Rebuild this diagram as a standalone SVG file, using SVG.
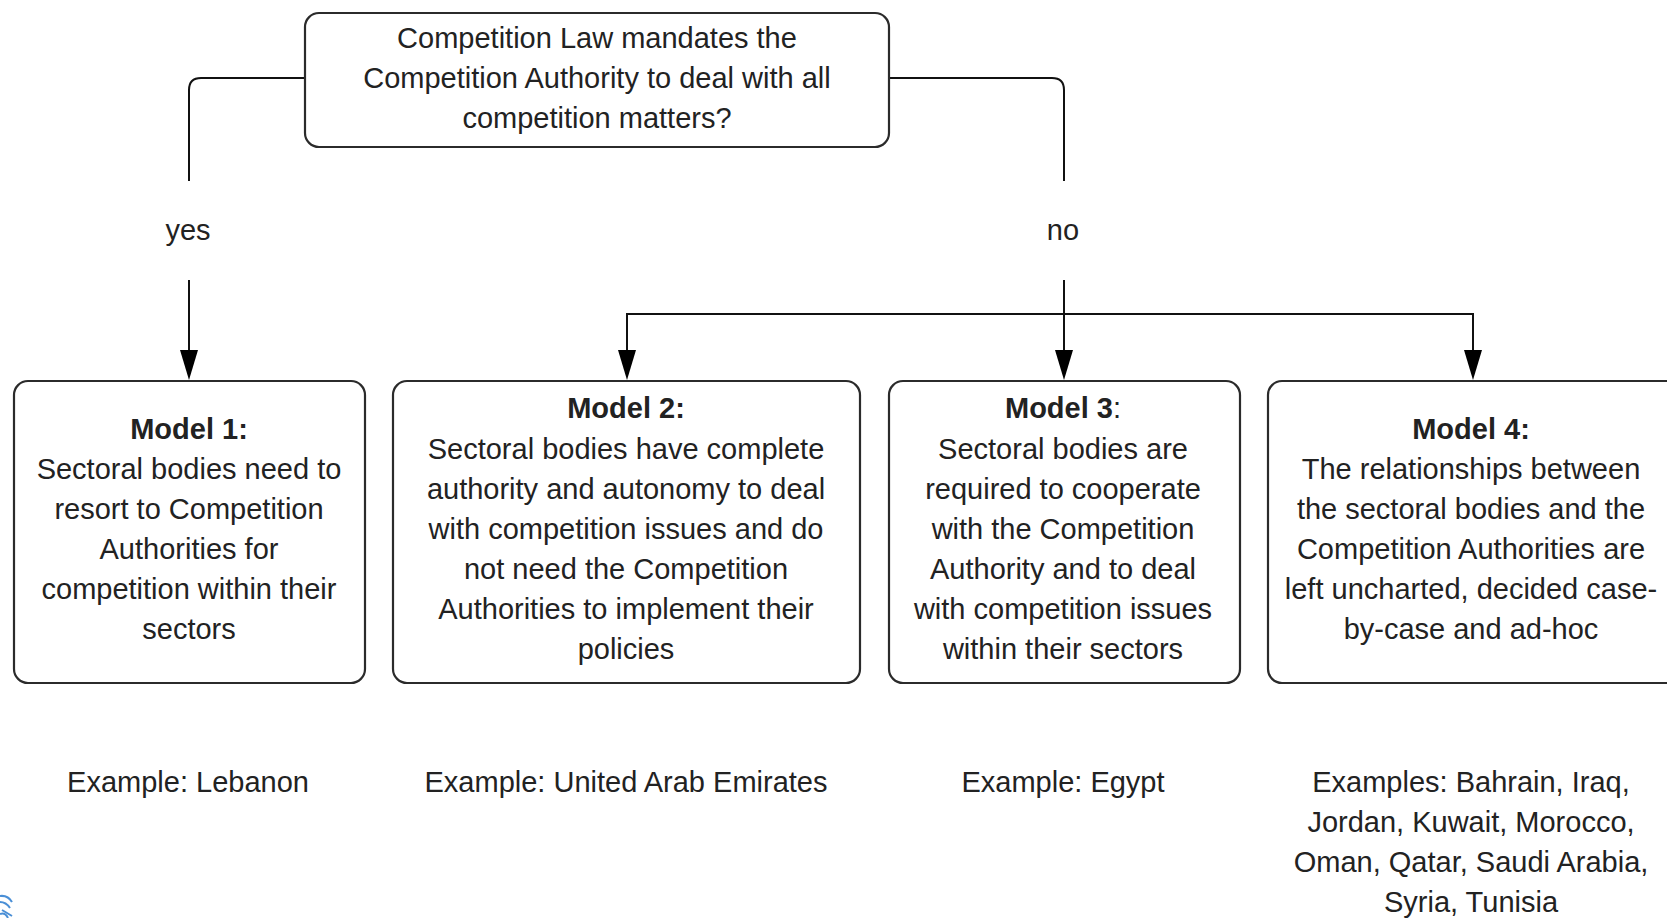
<svg xmlns="http://www.w3.org/2000/svg" width="1667" height="918" viewBox="0 0 1667 918">
<style>
  .box { fill: #ffffff; stroke: #2b2b2b; stroke-width: 2.2; }
  .t { font-family: "Liberation Sans", Arial, sans-serif; font-size: 29px; fill: #222222; text-anchor: middle; }
  .b { font-weight: bold; }
  .n { font-weight: normal; }
  .conn { fill: none; stroke: #111111; stroke-width: 2; }
</style>
<defs>
  <marker id="arrow" viewBox="0 0 18 30" refX="9" refY="30" markerWidth="18" markerHeight="30" markerUnits="userSpaceOnUse" orient="auto-start-reverse">
    <path d="M0,0 L18,0 L9,30 Z" fill="#000000"/>
  </marker>
</defs>
<rect width="1667" height="918" fill="#ffffff"/>

<g id="connectors">
  <path class="conn" d="M305,78 H201 Q189,78 189,90 V181"/>
  <path class="conn" d="M189,280 V350"/>
  <path class="conn" d="M889,78 H1052 Q1064,78 1064,90 V181"/>
  <path class="conn" d="M1064,280 V350"/>
  <path class="conn" d="M627,350 V314 H1473 V350"/>
  <path d="M180,350 L198,350 L189,380 Z" fill="#000"/>
  <path d="M1055,350 L1073,350 L1064,380 Z" fill="#000"/>
  <path d="M618,350 L636,350 L627,380 Z" fill="#000"/>
  <path d="M1464,350 L1482,350 L1473,380 Z" fill="#000"/>
  <text class="t" x="188" y="240">yes</text>
  <text class="t" x="1063" y="240">no</text>
</g>

<g id="question">
  <rect class="box" x="305" y="13" width="584" height="134" rx="14"/>
  <text class="t" x="597" y="48">Competition Law mandates the</text>
  <text class="t" x="597" y="88">Competition Authority to deal with all</text>
  <text class="t" x="597" y="128">competition matters?</text>
</g>

<g id="model1">
  <rect class="box" x="14" y="381" width="351" height="302" rx="14"/>
  <text class="t b" x="189" y="439">Model 1:</text>
  <text class="t" x="189" y="479">Sectoral bodies need to</text>
  <text class="t" x="189" y="519">resort to Competition</text>
  <text class="t" x="189" y="559">Authorities for</text>
  <text class="t" x="189" y="599">competition within their</text>
  <text class="t" x="189" y="639">sectors</text>
</g>

<g id="model2">
  <rect class="box" x="393" y="381" width="467" height="302" rx="14"/>
  <text class="t b" x="626" y="418">Model 2:</text>
  <text class="t" x="626" y="459">Sectoral bodies have complete</text>
  <text class="t" x="626" y="499">authority and autonomy to deal</text>
  <text class="t" x="626" y="539">with competition issues and do</text>
  <text class="t" x="626" y="579">not need the Competition</text>
  <text class="t" x="626" y="619">Authorities to implement their</text>
  <text class="t" x="626" y="659">policies</text>
</g>

<g id="model3">
  <rect class="box" x="889" y="381" width="351" height="302" rx="14"/>
  <text class="t b" x="1063" y="418">Model 3<tspan class="n">:</tspan></text>
  <text class="t" x="1063" y="459">Sectoral bodies are</text>
  <text class="t" x="1063" y="499">required to cooperate</text>
  <text class="t" x="1063" y="539">with the Competition</text>
  <text class="t" x="1063" y="579">Authority and to deal</text>
  <text class="t" x="1063" y="619">with competition issues</text>
  <text class="t" x="1063" y="659">within their sectors</text>
</g>

<g id="model4">
  <rect class="box" x="1268" y="381" width="420" height="302" rx="14"/>
  <text class="t b" x="1471" y="439">Model 4:</text>
  <text class="t" x="1471" y="479">The relationships between</text>
  <text class="t" x="1471" y="519">the sectoral bodies and the</text>
  <text class="t" x="1471" y="559">Competition Authorities are</text>
  <text class="t" x="1471" y="599">left uncharted, decided case-</text>
  <text class="t" x="1471" y="639">by-case and ad-hoc</text>
</g>

<g id="examples">
  <text class="t" x="188" y="792">Example: Lebanon</text>
  <text class="t" x="626" y="792">Example: United Arab Emirates</text>
  <text class="t" x="1063" y="792">Example: Egypt</text>
  <text class="t" x="1471" y="792">Examples: Bahrain, Iraq,</text>
  <text class="t" x="1471" y="832">Jordan, Kuwait, Morocco,</text>
  <text class="t" x="1471" y="872">Oman, Qatar, Saudi Arabia,</text>
  <text class="t" x="1471" y="912">Syria, Tunisia</text>
</g>

<g id="logo-fragment" fill="none" stroke="#4a8fd6" stroke-width="2">
  <path d="M0,896 Q8,895 12,902"/>
  <path d="M0,902 Q6,902 10,908"/>
  <path d="M2,910 L12,916"/>
  <path d="M0,914 Q5,912 8,918"/>
</g>
</svg>
